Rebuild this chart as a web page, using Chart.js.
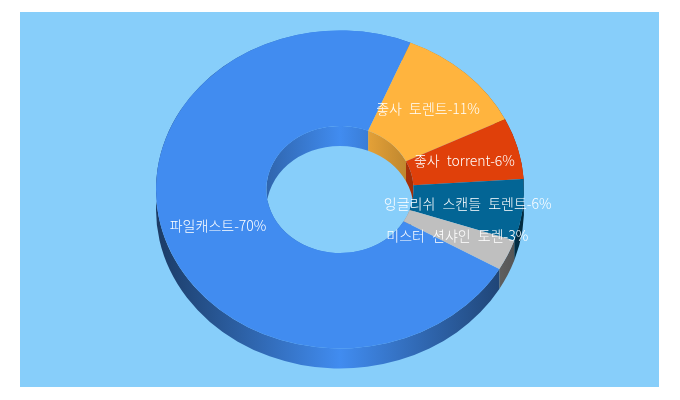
<!DOCTYPE html>
<html>
<head>
<meta charset="utf-8">
<script src="https://cdn.jsdelivr.net/npm/chart.js@4"></script>
<style>
  html, body { margin: 0; padding: 0; background: #fff; }
  canvas { display: block; }
</style>
</head>
<body>
<canvas id="myChart" width="680" height="400"></canvas>
<script>
//Data
const categories = ['파일캐스트', '좋사 토렌트', '좋사 torrent', '잉글리쉬 스캔들 토렌트', '미스터 션샤인 토렌'];
const shares = [70, 11, 6, 6, 3];
const colors = ['#418CF0', '#FFB43E', '#E0400A', '#036595', '#BFBFBF'];

const squash = 0.864; // y scale of the tilted ring
const depth = 20;     // ring thickness in px

// multiply a hex colour by a brightness factor
function shade(hex, f) {
  const n = parseInt(hex.slice(1), 16);
  const r = Math.round((n >> 16 & 255) * f);
  const g = Math.round((n >> 8 & 255) * f);
  const b = Math.round((n & 255) * f);
  return `rgb(${r},${g},${b})`;
}

function wallGradient(ctx, cx, radius, color, edge) {
  const g = ctx.createLinearGradient(cx - radius, 0, cx + radius, 0);
  g.addColorStop(0, shade(color, edge));
  g.addColorStop(0.5, color);
  g.addColorStop(1, shade(color, edge));
  return g;
}

// one side wall of a slice, from the top edge down to the bottom edge
function wall(ctx, arc, radius, fill) {
  const ry = radius * squash;
  ctx.beginPath();
  ctx.ellipse(arc.x, arc.y, radius, ry, 0, arc.startAngle, arc.endAngle);
  ctx.ellipse(arc.x, arc.y + depth, radius, ry, 0, arc.endAngle, arc.startAngle, true);
  ctx.closePath();
  ctx.fillStyle = fill;
  ctx.fill();
}

const ring3d = {
  id: 'ring3d',
  beforeDraw(chart) {
    const ctx = chart.ctx;
    ctx.fillStyle = '#87CEFA';
    ctx.fillRect(20, 12, 639, 375);
  },
  beforeDatasetDraw(chart) {
    const ctx = chart.ctx;
    const arcs = chart.getDatasetMeta(0).data;
    arcs.forEach((arc, i) => {
      wall(ctx, arc, arc.outerRadius, wallGradient(ctx, arc.x, arc.outerRadius, colors[i], 0.42));
      wall(ctx, arc, arc.innerRadius, wallGradient(ctx, arc.x, arc.innerRadius, colors[i], 0.72));
    });
    // squash the flat doughnut into the top face
    const cy = arcs[0].y;
    ctx.save();
    ctx.translate(0, cy);
    ctx.scale(1, squash);
    ctx.translate(0, -cy);
  },
  afterDatasetDraw(chart) {
    chart.ctx.restore();
  },
  afterDatasetsDraw(chart) {
    const ctx = chart.ctx;
    ctx.save();
    ctx.font = '300 14px "Noto Sans CJK KR"';
    ctx.wordSpacing = '4px';
    ctx.fillStyle = '#fff';
    ctx.textAlign = 'center';
    ctx.textBaseline = 'middle';
    chart.getDatasetMeta(0).data.forEach((arc, i) => {
      const mid = (arc.startAngle + arc.endAngle) / 2;
      const r = arc.outerRadius * 0.7;
      ctx.fillText(categories[i] + '-' + shares[i] + '%', arc.x + r * Math.cos(mid), arc.y + r * squash * Math.sin(mid));
    });
    ctx.restore();
  }
};

const ctx = document.getElementById('myChart').getContext('2d');
const myChart = new Chart(ctx, {
  type: 'doughnut',
  data: {
    labels: categories,
    datasets: [{
      data: shares,
      backgroundColor: colors,
      borderWidth: 0,
      clip: false
    }]
  },
  options: {
    responsive: false,
    animation: false,
    rotation: 120,
    cutout: '40%',
    layout: { padding: { top: 5.5, bottom: 26.5 } },
    plugins: { legend: { display: false }, tooltip: { enabled: false } },
    events: []
  },
  plugins: [ring3d]
});
</script>
</body>
</html>
